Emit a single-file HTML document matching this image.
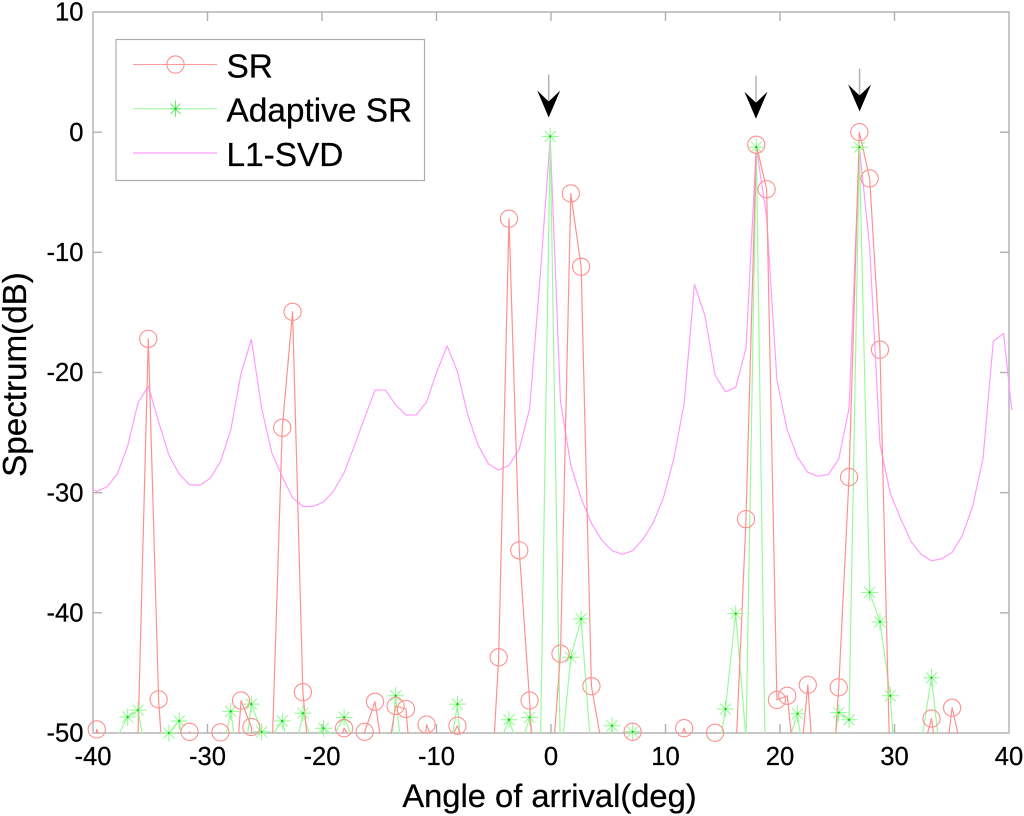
<!DOCTYPE html>
<html lang="en">
<head>
<meta charset="utf-8">
<title>Spectrum vs angle of arrival</title>
<style>
html,body{margin:0;padding:0;background:#fff;width:1024px;height:816px;overflow:hidden}
svg{display:block}
text{font-family:"Liberation Sans",Arial,sans-serif;fill:#000;stroke:#000;stroke-width:0.25px}
</style>
</head>
<body>
<svg id="chart" width="1024" height="816" viewBox="0 0 1024 816" xmlns="http://www.w3.org/2000/svg">
  <rect x="0" y="0" width="1024" height="816" fill="#ffffff"></rect>
  <g id="axes"></g>
  <g id="series"></g>
  <g id="markers"></g>
  <g id="arrows"></g>
  <text x="549.5" y="807" font-size="32.7" text-anchor="middle">Angle of arrival(deg)</text>
  <text transform="translate(26,374.5) rotate(-90)" font-size="33.2" text-anchor="middle">Spectrum(dB)</text>
  <g>
    <rect x="116" y="39.5" width="308.5" height="141" fill="#ffffff" stroke="#adadad" stroke-width="1.2"></rect>
    <g>
      <line x1="133" y1="64.5" x2="217" y2="64.5" stroke="#ff9a9a" stroke-width="1.1"></line>
      <circle cx="175.5" cy="64.5" r="8.6" fill="none" stroke="#ff9090" stroke-width="1.1"></circle>
      <text x="226.5" y="77.5" font-size="33.4">SR</text>
    </g>
    <g>
      <line x1="133" y1="108.7" x2="217" y2="108.7" stroke="#a6ffa6" stroke-width="1.1"></line>
      <path d="M175.5 100.5V117M170.5 103.5L180.5 114M170.5 114L180.5 103.5M170 108.7H181" stroke="#66f066" stroke-width="1" fill="none"></path>
      <circle cx="175.5" cy="108.7" r="1.1" fill="#14c814"></circle>
      <text x="226.5" y="121.7" font-size="33.4">Adaptive SR</text>
    </g>
    <g>
      <line x1="133" y1="153" x2="217" y2="153" stroke="#ff9cff" stroke-width="1.3"></line>
      <text x="226.5" y="166" font-size="33.4">L1-SVD</text>
    </g>
  </g>
</svg>
<script>
const angles = [-40.02,-39.67,-38.77,-37.87,-36.97,-36.07,-35.17,-34.27,-33.37,-32.47,-31.57,-30.67,-29.77,-28.87,-27.97,-27.07,-26.17,-25.27,-24.37,-23.47,-22.57,-21.67,-20.77,-19.87,-18.97,-18.07,-17.17,-16.27,-15.37,-14.47,-13.57,-12.67,-11.77,-10.87,-9.97,-9.07,-8.17,-7.27,-6.37,-5.47,-4.57,-3.67,-2.77,-1.87,-0.97,-0.07,0.83,1.73,2.63,3.53,4.43,5.33,6.23,7.13,8.03,8.93,9.83,10.73,11.63,12.53,13.43,14.33,15.23,16.13,17.03,17.93,18.83,19.73,20.63,21.53,22.43,23.33,24.23,25.13,26.03,26.93,27.83,28.73,29.63,30.53,31.43,32.33,33.23,34.13,35.03,35.93,36.83,37.73,38.63,39.53,40.24];
const srValues = [-52,-49.7,-52,-60,-60,-50.3,-17.2,-47.2,-60,-60,-49.9,-52,-52,-49.95,-59,-47.3,-49.5,-60,-51.8,-24.6,-14.95,-46.6,-56,-60,-52,-49.6,-51,-49.9,-47.4,-53,-47.75,-48,-58,-49.3,-51.5,-51,-49.4,-52,-60,-59,-43.7,-7.2,-34.8,-47.3,-64,-55,-43.4,-5.1,-11.2,-46.1,-51,-60,-60,-49.9,-52,-60,-60,-52,-49.6,-52,-52,-49.98,-60,-52,-32.2,-1.05,-4.75,-47.25,-46.9,-55,-46,-59,-59,-46.2,-28.7,0,-3.85,-18.1,-54,-60,-60,-52,-48.8,-55,-47.9,-51.7,-60,-60,-60,-60,-60];
const adaptiveValues = [-60,-60,-60,-50.3,-48.67,-48.1,-52.9,-60,-50,-49,-55,-60,-60,-52.5,-48.2,-54.5,-47.6,-49.9,-50.2,-49,-52.5,-48.35,-51,-49.6,-50.2,-48.7,-50.9,-60,-60,-57,-46.9,-55,-60,-60,-60,-53,-47.6,-58,-60,-60,-51,-48.9,-51.5,-48.7,-54,-0.35,-52.5,-43.7,-40.5,-52,-60,-49.4,-60,-49.9,-60,-60,-60,-60,-60,-60,-60,-53.4,-48,-40.07,-50.5,-1.25,-60,-60,-51,-48.4,-54.8,-60,-54,-48.3,-48.9,-1.25,-38.3,-40.75,-46.9,-59,-60,-50.8,-45.4,-53,-60,-60,-60,-60,-60,-60,-60];
const l1SvdValues = [-29.73,-29.89,-29.51,-28.45,-26.1,-22.52,-21.13,-24.1,-26.87,-28.45,-29.34,-29.37,-28.81,-27.43,-24.79,-20.07,-17.25,-22.99,-26.73,-28.68,-30.42,-31.14,-31.14,-30.78,-29.84,-28.34,-26.1,-23.74,-21.46,-21.46,-22.69,-23.54,-23.54,-22.46,-19.94,-17.78,-19.94,-23.54,-26.04,-27.6,-28.12,-27.73,-26.37,-23.04,-12.3,-0.5,-22.44,-27.7,-30.47,-32.55,-33.94,-34.83,-35.13,-34.83,-33.88,-32.5,-30.39,-27.15,-22.57,-12.67,-15.22,-20.22,-21.6,-21.24,-17.99,-1.25,-7.05,-20.63,-24.79,-27.06,-28.31,-28.64,-28.48,-27.2,-22.99,-1.25,-9.54,-25.96,-30.06,-32.14,-34.05,-35.13,-35.67,-35.5,-34.97,-33.55,-31.11,-27.15,-17.39,-16.75,-23.13];
const xTicks = [-40,-30,-20,-10,0,10,20,30,40];
const yTicks = [10,0,-10,-20,-30,-40,-50];
const arrowAngles = [-0.2,17.9,26.95];
const arrowTops = [4.8,4.7,5.3];

const NS = 'http://www.w3.org/2000/svg';
const X_LEFT = 93, X_RIGHT = 1009, Y_TOP = 12, Y_BOTTOM = 733;
const xMin = -40, xMax = 40, yMin = -50, yMax = 10;

function xScale(v) { return X_LEFT + (v - xMin) * (X_RIGHT - X_LEFT) / (xMax - xMin); }
function yScale(v) { return Y_BOTTOM - (v - yMin) * (Y_BOTTOM - Y_TOP) / (yMax - yMin); }

function mk(tag, parent, attrs) {
  const el = document.createElementNS(NS, tag);
  for (const k in attrs) el.setAttribute(k, attrs[k]);
  parent.appendChild(el);
  return el;
}

const axes = document.getElementById('axes');
const seriesG = document.getElementById('series');
const markersG = document.getElementById('markers');
const arrowsG = document.getElementById('arrows');

const frame = mk('rect', axes, {x: X_LEFT, y: Y_TOP, width: X_RIGHT - X_LEFT, height: Y_BOTTOM - Y_TOP, fill: 'none', stroke: '#b9b9b9', 'stroke-width': 1.6});



xTicks.forEach(function (t) {
  const px = xScale(t);
  if (t !== xMin && t !== xMax) {
    const a = mk('line', axes, {x1: px, x2: px, y1: Y_BOTTOM, y2: Y_BOTTOM - 9, stroke: '#b0b0b0', 'stroke-width': 1.4});
    
    
    const b = mk('line', axes, {x1: px, x2: px, y1: Y_TOP, y2: Y_TOP + 9, stroke: '#b0b0b0', 'stroke-width': 1.4});
    
    
  }
  const label = mk('text', axes, {x: px, y: 765, 'font-size': 25.6, 'text-anchor': 'middle'});
  label.textContent = String(t);
  
  
});

yTicks.forEach(function (t) {
  const py = yScale(t);
  if (t !== yMin && t !== yMax) {
    const a = mk('line', axes, {x1: X_LEFT, x2: X_LEFT + 9, y1: py, y2: py, stroke: '#b0b0b0', 'stroke-width': 1.4});
    
    
    const b = mk('line', axes, {x1: X_RIGHT, x2: X_RIGHT - 9, y1: py, y2: py, stroke: '#b0b0b0', 'stroke-width': 1.4});
    
    
  }
  const label = mk('text', axes, {x: 83.5, y: py + 8.7, 'font-size': 25.6, 'text-anchor': 'end'});
  label.textContent = String(t);
  
  
});

/* Builds a path clipped at the bottom axis, so segments stop at the axis line. */
function linePath(values) {
  const limit = Y_BOTTOM + 0.5;
  let d = '';
  let penDown = false;
  for (let i = 0; i < values.length - 1; i++) {
    const x1 = xScale(angles[i]), y1 = yScale(values[i]);
    const x2 = xScale(angles[i + 1]), y2 = yScale(values[i + 1]);
    if (y1 > limit && y2 > limit) { penDown = false; continue; }
    let sx = x1, sy = y1, ex = x2, ey = y2;
    if (y1 > limit) { sx = x1 + (x2 - x1) * (limit - y1) / (y2 - y1); sy = limit; penDown = false; }
    if (y2 > limit) { ex = x1 + (x2 - x1) * (limit - y1) / (y2 - y1); ey = limit; }
    if (sx < X_LEFT) { sy = sy + (ey - sy) * (X_LEFT - sx) / (ex - sx); sx = X_LEFT; penDown = false; }
    if (!penDown) d += 'M' + sx.toFixed(2) + ' ' + sy.toFixed(2);
    d += 'L' + ex.toFixed(2) + ' ' + ey.toFixed(2);
    penDown = y2 <= limit;
  }
  return d;
}

const l1Line = mk('path', seriesG, {d: linePath(l1SvdValues), fill: 'none', stroke: '#ff9cff', 'stroke-width': 1.2, 'stroke-linejoin': 'round'});



const adaptiveLine = mk('path', seriesG, {d: linePath(adaptiveValues), fill: 'none', stroke: '#9cfa9c', 'stroke-width': 1.2, 'stroke-linejoin': 'round'});



const srLine = mk('path', seriesG, {d: linePath(srValues), fill: 'none', stroke: '#ff9090', 'stroke-width': 1.2, 'stroke-linejoin': 'round'});



adaptiveValues.forEach(function (v, i) {
  if (v < yMin) return;
  const cx = xScale(angles[i]), cy = yScale(v);
  const d = 'M' + (cx - 8.5) + ' ' + cy + 'H' + (cx + 8.5) +
            'M' + cx + ' ' + (cy - 8.5) + 'V' + (cy + 8.5) +
            'M' + (cx - 5.5) + ' ' + (cy - 5.5) + 'L' + (cx + 5.5) + ' ' + (cy + 5.5) +
            'M' + (cx - 5.5) + ' ' + (cy + 5.5) + 'L' + (cx + 5.5) + ' ' + (cy - 5.5);
  const star = mk('path', markersG, {d: d, fill: 'none', stroke: '#8ffb8f', 'stroke-width': 1});
  
  
  const dot = mk('circle', markersG, {cx: cx, cy: cy, r: 1.1, fill: '#14c814'});
  
  
});

srValues.forEach(function (v, i) {
  if (v < yMin) return;
  const c = mk('circle', markersG, {cx: xScale(angles[i]), cy: yScale(v), r: 8.6, fill: 'none', stroke: '#ff9090', 'stroke-width': 1.1});
  
  
});

arrowAngles.forEach(function (a, i) {
  const cx = xScale(a), top = yScale(arrowTops[i]);
  const stem = mk('line', arrowsG, {x1: cx, x2: cx, y1: top, y2: top + 28, stroke: '#b4b4b4', 'stroke-width': 1.5});
  
  
  const tipY = top + 43;
  const pts = [[cx - 11.5, tipY - 27], [cx, tipY - 16], [cx + 11.5, tipY - 27], [cx, tipY]].map(function (p) { return p[0] + ',' + p[1]; }).join(' ');
  const head = mk('polygon', arrowsG, {points: pts, fill: '#000000'});
  
  
});
</script>
</body>
</html>
